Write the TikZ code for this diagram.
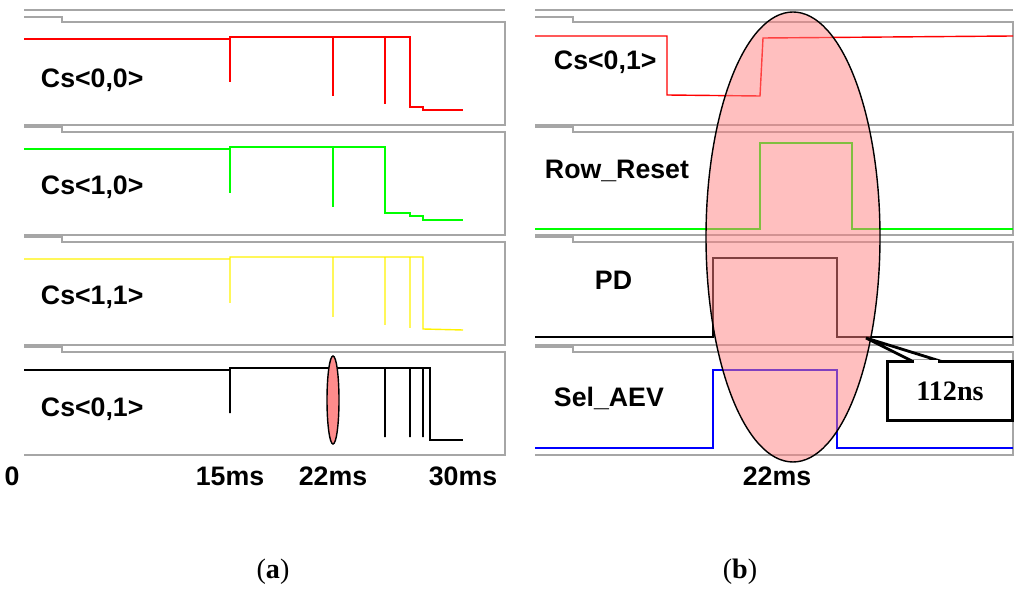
\documentclass[tikz,border=0pt]{standalone}
\usepackage{fontspec}
\setmainfont{Liberation Sans}
\newfontfamily\serifb{Liberation Serif}
\usetikzlibrary{positioning}
\begin{document}
\begin{tikzpicture}[x=0.025cm,y=-0.025cm]
        \tikzstyle{frame}=[draw=gray!70, line width=0.8pt]
        \tikzstyle{sig}=[line width=1pt]
        \tikzstyle{lab}=[font=\fontsize{19}{21}\selectfont\bfseries, anchor=west]
        \tikzstyle{axis}=[font=\fontsize{19}{21}\selectfont\bfseries]
        \useasboundingbox (0,0) rectangle (1024,589);

	% frames of the two panels
	\foreach \xa/\xb in {24/505,535/1013}{
	  \draw[frame] (\xa,10) -- (\xb,10);
	  \foreach \t/\b in {22/125,132/235,242/345,352/455}{
	    \draw[frame] (\xa,\t-5) -- (\xa+38,\t-5) -- (\xa+38,\t) -- (\xb,\t) -- (\xb,\b) -- (\xa,\b);
	  }
	}

	% left panel
	\draw[sig,red] (24,39) -- (230,39) -- (230,82) -- (230,37) -- (333,37) -- (333,96) -- (333,37) -- (385,37) -- (385,104) -- (385,37) -- (410,37) -- (410,107) -- (423,107) -- (423,110) -- (463,110);
	\draw[sig,green] (24,149) -- (230,149) -- (230,193) -- (230,147) -- (333,147) -- (333,207) -- (333,147) -- (385,147) -- (385,213) -- (410,213) -- (410,216) -- (423,216) -- (423,220) -- (463,220);
	\draw[sig,yellow] (24,259) -- (230,259) -- (230,303) -- (230,257) -- (333,257) -- (333,317) -- (333,257) -- (385,257) -- (385,325) -- (385,257) -- (410,257) -- (410,328) -- (410,257) -- (423,257) -- (423,329) -- (463,330);
	\draw[sig,black] (24,370) -- (230,370) -- (230,413) -- (230,368) -- (385,368) -- (385,437) -- (385,368) -- (410,368) -- (410,437) -- (410,368) -- (423,368) -- (423,437) -- (423,368) -- (430,368) -- (430,440) -- (463,440);
	\draw[sig,black] (333,368) -- (333,437);
	\draw[line width=1pt, fill=red!45] (333,400) ellipse [x radius=6, y radius=44];

	\node[lab] (cs00) at (36,80) {Cs<0,0>};
	\node[lab] (cs10) at (36,187) {Cs<1,0>};
	\node[lab] (cs11) at (36,297) {Cs<1,1>};
	\node[lab] (cs01a) at (36,409) {Cs<0,1>};

	\node[axis] (t0) at (12,476) {0};
	\node[axis] (t15) at (230,476) {15ms};
	\node[axis] (t22) at (333,476) {22ms};
	\node[axis] (t30) at (463,476) {30ms};

	% right panel
	\draw[sig,red] (535,36) -- (667,36) -- (667,95) -- (760,96) -- (763,38) -- (1013,36);
	\draw[sig,green] (535,229) -- (760,229) -- (760,143) -- (852,143) -- (852,229) -- (1013,229);
	\draw[sig,black] (535,337) -- (713,337) -- (713,258) -- (837,258) -- (837,337) -- (1013,337);
	\draw[sig,blue] (535,448) -- (713,448) -- (713,370) -- (837,370) -- (837,448) -- (1013,448);
	\draw[line width=1pt, fill=red!50, fill opacity=0.5] (793,237) ellipse [x radius=87, y radius=225];

	\node[lab] (cs01b) at (549,62) {Cs<0,1>};
	\node[lab] (row) at (540,171) {Row\_Reset};
	\node[lab] (pd) at (590,280) {PD};
	\node[lab] (sel) at (549,398) {Sel\_AEV};
	\node[axis] (t22b) at (777,476) {22ms};

	\node[draw, line width=2.2pt, minimum width=125*0.025cm, minimum height=59*0.025cm, font=\serifb\fontsize{20}{22}\selectfont\bfseries] (ns) at (950,391) {112ns};
	\coordinate (tip) at (866,338);
	\draw[line width=2pt, fill=white] (tip) -- (912,361) -- (940,361) -- cycle;
	\draw[white, line width=2pt] (914,361.5) -- (938,361.5);

	\node[font=\serifb\fontsize{20}{22}\selectfont] (a) at (273,572) {(\textbf{a})};
	\node[font=\serifb\fontsize{20}{22}\selectfont] (b) at (740,572) {(\textbf{b})};
\end{tikzpicture}
\end{document}
